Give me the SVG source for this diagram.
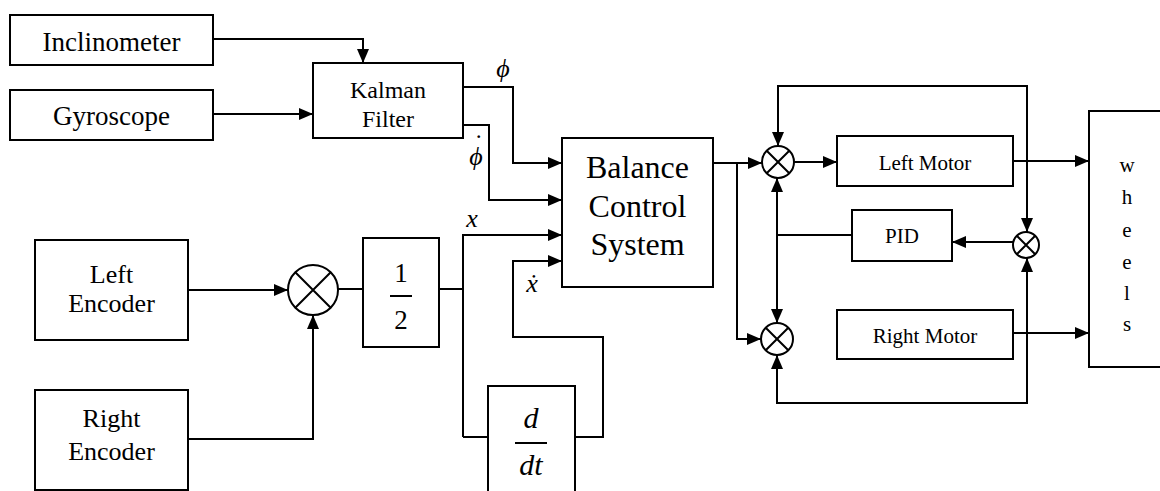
<svg xmlns="http://www.w3.org/2000/svg" width="1160" height="491" viewBox="0 0 1160 491">
<defs>
<marker id="ah" viewBox="0 0 14 12" markerWidth="14" markerHeight="12" refX="14" refY="6" orient="auto" markerUnits="userSpaceOnUse">
<path d="M0,0 L14,6 L0,12 z" fill="#000"/>
</marker>
<style>
.box{fill:#fff;stroke:#000;stroke-width:2}
.ln{fill:none;stroke:#000;stroke-width:2}
.arr{fill:none;stroke:#000;stroke-width:2;marker-end:url(#ah)}
.t{font-family:"Liberation Serif","Times New Roman",serif;fill:#000;text-anchor:middle}
.m{font-family:"Liberation Serif","Times New Roman",serif;font-style:italic;fill:#000;text-anchor:middle}
</style>
</defs>
<rect width="1160" height="491" fill="#fff"/>

<g id="connectors">
<path class="arr" d="M213,39 H363 V63"/>
<path class="arr" d="M213,114 H313"/>
<path class="arr" d="M463,87 H513 V163 H562"/>
<path class="arr" d="M463,125 H489 V200 H562"/>
<path class="ln" d="M439,289 H463"/>
<path class="arr" d="M463,437 V235 H562"/>
<path class="ln" d="M463,437 H488"/>
<path class="arr" d="M575,437 H603 V337 H513 V261 H562"/>
<path class="arr" d="M188,290 H288"/>
<path class="arr" d="M188,439 H313 V315"/>
<path class="ln" d="M338,289 H363"/>
<path class="arr" d="M713,163 H762"/>
<path class="arr" d="M737,163 V339 H761"/>
<path class="arr" d="M794,162 H837"/>
<path class="arr" d="M1013,161 H1089"/>
<path class="arr" d="M903,86 H778 V146"/>
<path class="arr" d="M903,86 H1027 V232"/>
<path class="arr" d="M903,403 H777 V355"/>
<path class="arr" d="M903,403 H1027 V258"/>
<path class="arr" d="M1013,242 H952"/>
<path class="ln" d="M852,235 H777"/>
<path class="arr" d="M777,236 V178"/>
<path class="arr" d="M777,234 V323"/>
<path class="arr" d="M1013,333 H1089"/>
</g>

<g id="inclinometer">
<rect class="box" x="10" y="15" width="203" height="50"/>
<text class="t" x="111.5" y="51" font-size="27">Inclinometer</text>
</g>
<g id="gyroscope">
<rect class="box" x="10" y="90" width="203" height="50"/>
<text class="t" x="111.5" y="125" font-size="27">Gyroscope</text>
</g>
<g id="kalman-filter">
<rect class="box" x="313" y="63" width="150" height="75"/>
<text class="t" x="388" y="98" font-size="24">Kalman</text>
<text class="t" x="388" y="127" font-size="24">Filter</text>
</g>
<g id="balance-control">
<rect class="box" x="562" y="138" width="151" height="149"/>
<text class="t" x="637.5" y="178" font-size="32">Balance</text>
<text class="t" x="637.5" y="217" font-size="32">Control</text>
<text class="t" x="637.5" y="255" font-size="32">System</text>
</g>
<g id="left-encoder">
<rect class="box" x="35" y="240" width="153" height="100"/>
<text class="t" x="111.5" y="283" font-size="26">Left</text>
<text class="t" x="111.5" y="312" font-size="26">Encoder</text>
</g>
<g id="right-encoder">
<rect class="box" x="35" y="390" width="153" height="100"/>
<text class="t" x="111.5" y="427" font-size="26">Right</text>
<text class="t" x="111.5" y="460" font-size="26">Encoder</text>
</g>
<g id="sum-encoders">
<circle class="box" cx="313" cy="290" r="25"/>
<path class="ln" d="M295.3,272.3 L330.7,307.7 M330.7,272.3 L295.3,307.7"/>
</g>
<g id="half">
<rect class="box" x="363" y="238" width="76" height="109"/>
<text class="t" x="401" y="282" font-size="27">1</text>
<path class="ln" d="M390,296 H412"/>
<text class="t" x="401" y="329" font-size="27">2</text>
</g>
<g id="derivative">
<rect class="box" x="488" y="386" width="87" height="110"/>
<text class="m" x="531" y="428" font-size="30">d</text>
<path class="ln" d="M515,443 H547"/>
<text class="m" x="531" y="475" font-size="30">dt</text>
</g>
<g id="labels">
<text class="m" x="503" y="77" font-size="26">ϕ</text>
<text class="m" x="476" y="165" font-size="26">ϕ<tspan dx="-10" dy="-13">˙</tspan></text>
<text class="m" x="472" y="227" font-size="26">x</text>
<text class="m" x="532" y="292" font-size="26">ẋ</text>
</g>
<g id="sum-left">
<circle class="box" cx="778" cy="162" r="16"/>
<path class="ln" d="M766.7,150.7 L789.3,173.3 M789.3,150.7 L766.7,173.3"/>
</g>
<g id="sum-right">
<circle class="box" cx="777" cy="339" r="16"/>
<path class="ln" d="M765.7,327.7 L788.3,350.3 M788.3,327.7 L765.7,350.3"/>
</g>
<g id="sum-diff">
<circle class="box" cx="1026" cy="245" r="13"/>
<path class="ln" d="M1016.8,235.8 L1035.2,254.2 M1035.2,235.8 L1016.8,254.2"/>
</g>
<g id="left-motor">
<rect class="box" x="837" y="136" width="176" height="50"/>
<text class="t" x="925" y="170" font-size="21">Left Motor</text>
</g>
<g id="pid">
<rect class="box" x="852" y="210" width="100" height="51"/>
<text class="t" x="902" y="243" font-size="21">PID</text>
</g>
<g id="right-motor">
<rect class="box" x="837" y="310" width="176" height="49"/>
<text class="t" x="925" y="343" font-size="21">Right Motor</text>
</g>
<g id="wheels">
<rect class="box" x="1089" y="111" width="90" height="256"/>
<text class="t" x="1127" y="172" font-size="21">w</text>
<text class="t" x="1127" y="204" font-size="21">h</text>
<text class="t" x="1127" y="237" font-size="21">e</text>
<text class="t" x="1127" y="269" font-size="21">e</text>
<text class="t" x="1127" y="300" font-size="21">l</text>
<text class="t" x="1127" y="331" font-size="21">s</text>
</g>
</svg>
